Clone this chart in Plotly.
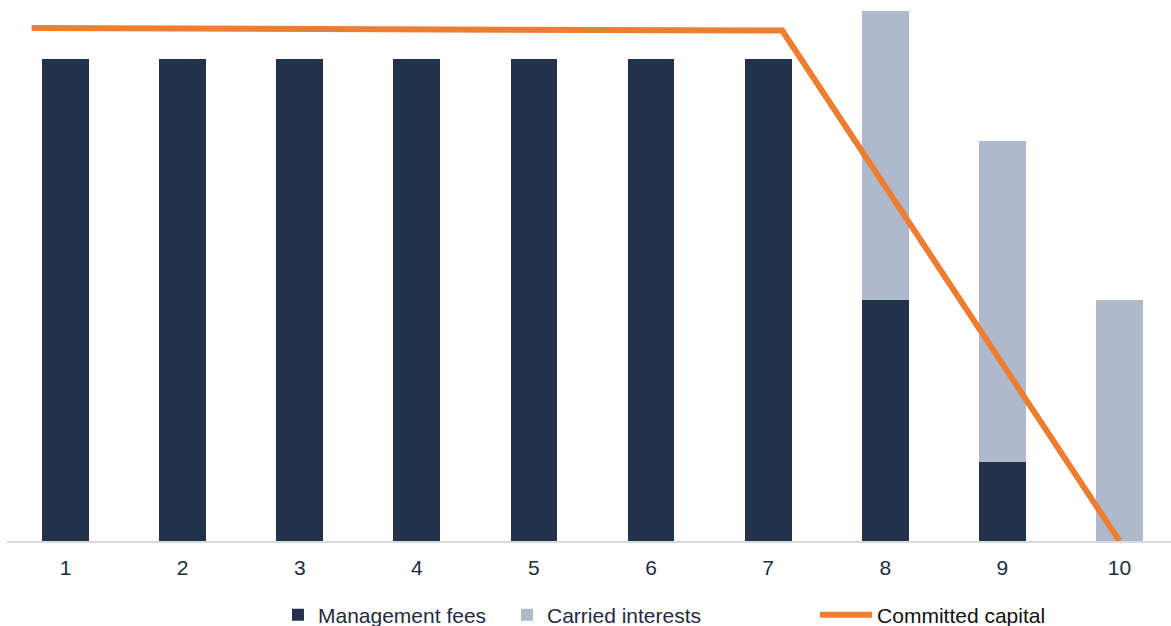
import plotly.graph_objects as go

years = [1, 2, 3, 4, 5, 6, 7, 8, 9, 10]
management_fees = [2.0, 2.0, 2.0, 2.0, 2.0, 2.0, 2.0, 1.0, 0.33, 0.0]
carried_interests = [0.0, 0.0, 0.0, 0.0, 0.0, 0.0, 0.0, 1.2, 1.33, 1.0]
committed_x = [0.71, 7.12, 10.0]
committed_y = [2.13, 2.12, 0.0]

NAVY = "#22324B"
LIGHT = "#AEB9CB"
ORANGE = "#ED7D31"
FONT = "Liberation Sans, Arial, Helvetica, sans-serif"

fig = go.Figure()
fig.add_trace(go.Bar(x=years, y=management_fees, name="Management fees",
                     marker=dict(color=NAVY, line=dict(width=0)), width=0.4,
                     legend="legend"))
fig.add_trace(go.Bar(x=years, y=carried_interests, name="Carried interests",
                     marker=dict(color=LIGHT, line=dict(width=0)), width=0.4,
                     legend="legend"))
fig.add_trace(go.Scatter(x=committed_x, y=committed_y, mode="lines",
                         name="Committed capital",
                         line=dict(color=ORANGE, width=6),
                         legend="legend2"))

fig.update_layout(
    width=1171, height=626,
    barmode="stack",
    plot_bgcolor="white", paper_bgcolor="white",
    margin=dict(l=7, r=0, t=0, b=85, autoexpand=False),
    font=dict(family=FONT, size=21, color="#1E2B40"),
    showlegend=True,
    legend=dict(orientation="h", x=0.2328, xanchor="left", y=-0.1368,
                yanchor="middle", entrywidth=184, entrywidthmode="pixels",
                font=dict(size=21, color="#1E2B40"), bgcolor="rgba(0,0,0,0)",
                traceorder="normal"),
    legend2=dict(orientation="h", x=0.6942, xanchor="left", y=-0.1368,
                 yanchor="middle", itemwidth=52,
                 font=dict(size=21, color="#111111"), bgcolor="rgba(0,0,0,0)"),
)
fig.update_xaxes(range=[0.5, 10.44], tickvals=years, ticktext=[str(v) for v in years],
                 showgrid=False, zeroline=False, showline=True,
                 linecolor="#D9D9D9", linewidth=1.5, ticks="",
                 ticklabelstandoff=7,
                 tickfont=dict(size=21, color="#1E2B40"))
fig.update_yaxes(range=[0, 2.2467], showgrid=False, zeroline=False,
                 showticklabels=False, showline=False)

fig.write_html("out.html", config={"displayModeBar": False},
               post_script="document.body.style.margin='0';document.body.style.overflow='hidden';")
